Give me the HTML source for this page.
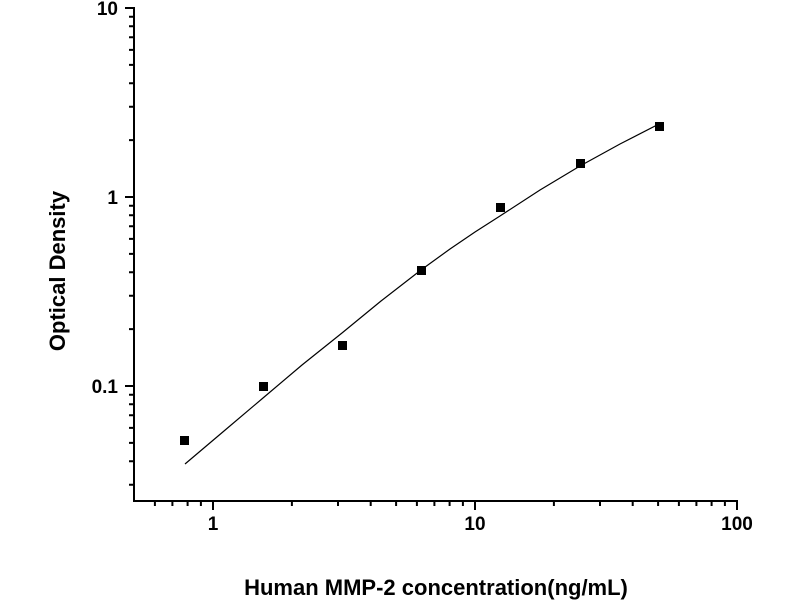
<!DOCTYPE html>
<html><head><style>body{margin:0;background:#fff}svg{display:block}text{font-family:"Liberation Sans",Arial,sans-serif;font-weight:bold;fill:#000}</style></head>
<body>
<svg width="800" height="600" viewBox="0 0 800 600">
<path fill="none" stroke="#000" stroke-width="2" d="M134,7V501M133,501H738
M125,8H134M125,197H134M125,386H134
M213,501V510M475,501V510M737,501V510
M129,16.7H134M129,26.3H134M129,37.3H134M129,49.9H134M129,64.9H134M129,83.2H134M129,106.8H134M129,140.1H134
M129,205.7H134M129,215.3H134M129,226.3H134M129,238.9H134M129,253.9H134M129,272.2H134M129,295.8H134M129,329.1H134
M129,394.7H134M129,404.3H134M129,415.3H134M129,427.9H134M129,442.9H134M129,461.2H134M129,484.8H134
M154.9,501V506M172.4,501V506M187.6,501V506M200.9,501V506
M291.9,501V506M338,501V506M370.7,501V506M396.1,501V506M416.9,501V506M434.4,501V506M449.6,501V506M462.9,501V506
M553.9,501V506M600,501V506M632.7,501V506M658.1,501V506M678.9,501V506M696.4,501V506M711.6,501V506M724.9,501V506"/>
<text x="118" y="15" style="font-size:19px" text-anchor="end">10</text>
<text x="118" y="204" style="font-size:19px" text-anchor="end">1</text>
<text x="118" y="393" style="font-size:19px" text-anchor="end">0.1</text>
<text x="213" y="530" style="font-size:19px" text-anchor="middle">1</text>
<text x="475" y="530" style="font-size:19px" text-anchor="middle">10</text>
<text x="737" y="530" style="font-size:19px" text-anchor="middle">100</text>
<text x="436" y="595" style="font-size:22px" text-anchor="middle">Human MMP-2 concentration(ng/mL)</text>
<text transform="translate(65,271) rotate(-90)" style="font-size:22px" text-anchor="middle">Optical Density</text>
<polyline fill="none" stroke="#000" stroke-width="1.2" points="185,464 224,431 263,398 302,365 342,333 381,301 421,270 450,249 475,232 500,216 540,190 580,166 620,144 659,124"/>
<g fill="#000">
<rect x="180" y="436" width="9" height="9"/>
<rect x="259" y="382" width="9" height="9"/>
<rect x="338" y="341" width="9" height="9"/>
<rect x="417" y="266" width="9" height="9"/>
<rect x="496" y="203" width="9" height="9"/>
<rect x="576" y="159" width="9" height="9"/>
<rect x="655" y="122" width="9" height="9"/>
</g>
</svg>
</body></html>
